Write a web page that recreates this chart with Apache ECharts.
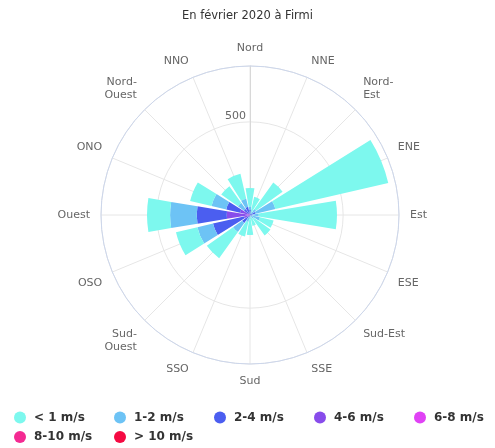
<!DOCTYPE html>
<html>
<head>
<meta charset="utf-8">
<script src="https://cdn.jsdelivr.net/npm/echarts@6/dist/echarts.min.js"></script>
<style>
  html, body { margin: 0; padding: 0; background: #fff; }
  #main { width: 495px; height: 448px; }
</style>
</head>
<body>
<div id="main"></div>
<script>
// directions, clockwise from north
const directions = ["Nord", "NNE", "Nord-\nEst", "ENE", "Est", "ESE", "Sud-Est", "SSE",
  "Sud", "SSO", "Sud-\nOuest", "OSO", "Ouest", "ONO", "Nord-\nOuest", "NNO"];

// hours per speed class
const below1 = [100, 80, 175, 622, 420, 75, 110, 50, 85, 80, 173, 118, 124, 118, 110, 137];
const from1to2 = [15, 15, 30, 110, 35, 45, 25, 10, 15, 25, 60, 86, 143, 81, 40, 45];
const from2to4 = [20, 5, 10, 30, 12, 10, 0, 0, 7, 13, 40, 170, 161, 76, 30, 35];
const from4to6 = [10, 0, 0, 0, 0, 0, 0, 0, 0, 0, 12, 34, 110, 50, 10, 10];
const from6to8 = [0, 0, 0, 0, 0, 0, 0, 0, 0, 0, 0, 0, 15, 5, 0, 0];
const from8to10 = [0, 0, 0, 0, 0, 0, 0, 0, 0, 0, 0, 0, 0, 0, 0, 0];
const above10 = [0, 0, 0, 0, 0, 0, 0, 0, 0, 0, 0, 0, 0, 0, 0, 0];

const radiusTicks = [500];

const speedClasses = [
  { name: "< 1 m/s", data: below1, color: "#7df8ee" },
  { name: "1-2 m/s", data: from1to2, color: "#6dc3f5" },
  { name: "2-4 m/s", data: from2to4, color: "#4b5ef0" },
  { name: "4-6 m/s", data: from4to6, color: "#884ceb" },
  { name: "6-8 m/s", data: from6to8, color: "#e042f5" },
  { name: "8-10 m/s", data: from8to10, color: "#f42a92" },
  { name: "> 10 m/s", data: above10, color: "#f50a42" },
];

const sector = 360 / directions.length;
const font = "DejaVu Sans";

const chart = echarts.init(document.getElementById("main"));

// echarts stacks the first series innermost, so the slow winds go last
const series = speedClasses.slice().reverse().map((s) => ({
  name: s.name,
  type: "bar",
  coordinateSystem: "polar",
  polarIndex: 0,
  stack: "wind",
  data: s.data,
  barCategoryGap: "16%",
  itemStyle: { color: s.color },
  emphasis: { disabled: true },
  z: 3,
}));

// one legend per entry so they sit on a fixed 100px grid, five per row
const legends = speedClasses.map((s, i) => ({
  data: [s.name],
  left: 9 + (i % 5) * 100,
  top: i < 5 ? 406.5 : 426,
  icon: "circle",
  itemWidth: 18,
  itemHeight: 12,
  textStyle: { fontFamily: font, fontSize: 12, fontWeight: "bold", color: "#333" },
}));

const option = {
  animation: false,
  title: {
    text: "En février 2020 à Firmi",
    left: "center",
    top: 5,
    textStyle: { fontFamily: font, fontSize: 11.5, fontWeight: "normal", color: "#333" },
  },
  legend: legends,
  // polar 0 holds the bars, polar 1 draws the grid with spokes on the directions
  polar: [
    { center: [250, 215], radius: 149 },
    { center: [250, 215], radius: 149 },
  ],
  angleAxis: [
    {
      polarIndex: 0,
      type: "category",
      data: directions,
      startAngle: 90 + sector / 2,
      clockwise: true,
      axisLine: { show: false },
      axisTick: { show: false },
      splitLine: { show: false },
      axisLabel: {
        margin: 11,
        fontFamily: font,
        fontSize: 11,
        color: "#666",
        lineHeight: 13,
      },
    },
    {
      polarIndex: 1,
      type: "value",
      min: 0,
      max: 360,
      interval: sector,
      startAngle: 90,
      clockwise: true,
      axisLine: { lineStyle: { color: "#ccd6eb", width: 1 } },
      axisTick: { show: false },
      axisLabel: { show: false },
      splitLine: { show: true, lineStyle: { color: "#e6e6e6" } },
    },
  ],
  radiusAxis: [
    {
      polarIndex: 0,
      type: "value",
      min: 0,
      max: 800,
      axisLine: { show: false },
      axisTick: { show: false },
      axisLabel: { show: false },
      splitLine: { show: false },
    },
    {
      polarIndex: 1,
      type: "value",
      min: 0,
      max: 800,
      interval: 500,
      axisLine: { show: true, lineStyle: { color: "#d8d8d8" } },
      axisTick: { show: false },
      axisLabel: {
        margin: 4,
        verticalAlign: "bottom",
        fontFamily: font,
        fontSize: 11,
        color: "#666",
        formatter: (v) => (radiusTicks.includes(v) ? String(v) : ""),
      },
      splitLine: { show: true, lineStyle: { color: "#e6e6e6" } },
    },
  ],
  series: series,
};

chart.setOption(option);
</script>
</body>
</html>
